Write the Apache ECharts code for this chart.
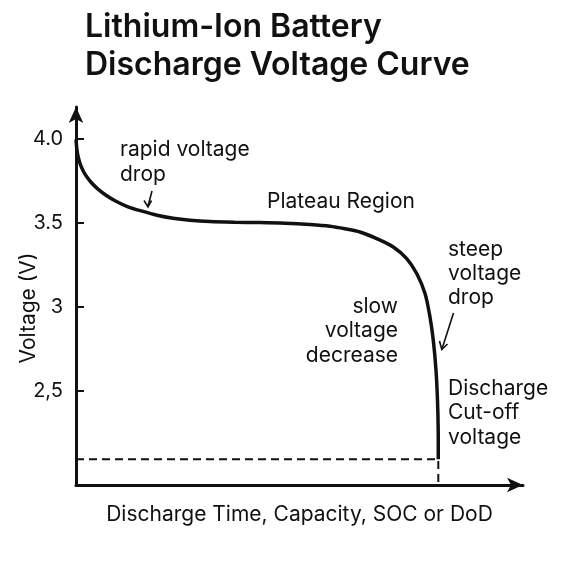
<!DOCTYPE html>
<html>
<head>
<meta charset="utf-8">
<script src="https://cdn.jsdelivr.net/npm/echarts@6/dist/echarts.min.js"></script>
<style>html,body{margin:0;padding:0;background:#fff}#c{width:584px;height:584px}</style>
</head>
<body>
<div id="c"></div>
<script>
// Discharge progress (0–100 along x-axis) and voltage
const progress = [0, 0.22, 0.56, 1.12, 2.01, 3.36, 4.92, 6.71, 8.95, 11.63, 14.77, 18.12, 21.7, 25.5, 29.98, 35.57, 41.16, 46.76, 52.35, 56.82, 60.18, 63.53, 67.27, 70.98, 73.98, 76.22, 78.08, 79.19, 79.93, 80.54, 80.87, 81.03, 81.05];
const voltage  = [3.998, 3.933, 3.885, 3.838, 3.790, 3.742, 3.701, 3.665, 3.629, 3.596, 3.570, 3.546, 3.528, 3.516, 3.508, 3.504, 3.502, 3.498, 3.490, 3.480, 3.465, 3.446, 3.407, 3.357, 3.288, 3.199, 3.080, 2.940, 2.802, 2.623, 2.445, 2.266, 2.093];
const cutoffVoltage = 2.093;
const cutoffProgress = 81.05;
const yTickValues = [2.5, 3, 3.5, 4];
const yTickLabels = ['2,5', '3', '3.5', '4.0'];
const titleLines = ['Lithium-Ion Battery', 'Discharge Voltage Curve'];
const xAxisName = 'Discharge Time, Capacity, SOC or DoD';
const yAxisName = 'Voltage (V)';

const yMin = 1.94, yMax = 4.19;
const font = 'Inter, "Noto Sans", sans-serif';
const ink = '#111';

const curve = progress.map((p, i) => [p, voltage[i]]);
const cutoff = [[0, cutoffVoltage], [cutoffProgress, cutoffVoltage], [cutoffProgress, yMin]];

const chart = echarts.init(document.getElementById('c'), null, {renderer: 'canvas'});

function note(x, y, text, align, lh) {
  return {type: 'text', x: x, y: y, z: 10,
    style: {text: text, fill: ink, font: '21px ' + font, align: align, verticalAlign: 'top', lineHeight: lh}};
}

chart.setOption({
  animation: false,
  backgroundColor: '#fff',
  title: {
    text: titleLines.join('\n'),
    left: 80, top: 3,
    textStyle: {fontFamily: font, fontSize: 32, fontWeight: 600, color: ink, lineHeight: 38.5}
  },
  grid: {left: 76, right: 61, top: 107, bottom: 99},
  xAxis: {
    type: 'value', min: 0, max: 100,
    name: xAxisName, nameLocation: 'middle', nameGap: 19, nameMoveOverlap: false,
    nameTextStyle: {fontFamily: font, fontSize: 21, color: ink},
    axisLine: {show: true, symbol: ['none', 'arrow'], symbolSize: [11, 16], lineStyle: {color: ink, width: 3}},
    axisTick: {show: false}, axisLabel: {show: false}, splitLine: {show: false}
  },
  yAxis: {
    type: 'value', min: yMin, max: yMax,
    name: yAxisName, nameLocation: 'middle', nameGap: 37, nameMoveOverlap: false,
    nameTextStyle: {fontFamily: font, fontSize: 21, color: ink, padding: [0, 24, 0, 0]},
    axisLine: {show: true, symbol: ['none', 'arrow'], symbolSize: [11, 16], lineStyle: {color: ink, width: 3}},
    axisTick: {show: true, inside: true, length: 8, customValues: yTickValues, lineStyle: {color: ink, width: 2}},
    axisLabel: {
      customValues: yTickValues, margin: 13,
      fontFamily: font, fontSize: 20, color: ink,
      formatter: v => { const i = yTickValues.findIndex(t => Math.abs(t - v) < 1e-6); return i >= 0 ? yTickLabels[i] : ''; }
    },
    splitLine: {show: false}
  },
  series: [
    {
      type: 'line', data: cutoff, symbol: 'none', silent: true,
      lineStyle: {color: ink, width: 2, type: [8, 5]}, z: 1
    },
    {
      type: 'line', data: curve, smooth: 0.3, symbol: 'none', silent: true,
      lineStyle: {color: ink, width: 3.5}, z: 3
    }
  ],
  graphic: [
    note(120, 137, 'rapid voltage\ndrop', 'left', 25),
    note(267, 189, 'Plateau Region', 'left', 25),
    note(448, 238, 'steep\nvoltage\ndrop', 'left', 24),
    note(398, 294, 'slow\nvoltage\ndecrease', 'right', 24.5),
    note(448, 376, 'Discharge\nCut-off\nvoltage', 'left', 24.5),
    {type: 'line', shape: {x1: 152, y1: 191, x2: 148, y2: 206}, style: {stroke: ink, lineWidth: 1.6}},
    {type: 'polyline', shape: {points: [[144, 200.5], [148, 207], [151.5, 200.5]]}, style: {stroke: ink, lineWidth: 1.6, fill: null}},
    {type: 'line', shape: {x1: 453.5, y1: 313, x2: 442, y2: 349}, style: {stroke: ink, lineWidth: 1.6}},
    {type: 'polyline', shape: {points: [[439.5, 341], [441.8, 349.5], [447.5, 344]]}, style: {stroke: ink, lineWidth: 1.6, fill: null}}
  ]
});
</script>
</body>
</html>
